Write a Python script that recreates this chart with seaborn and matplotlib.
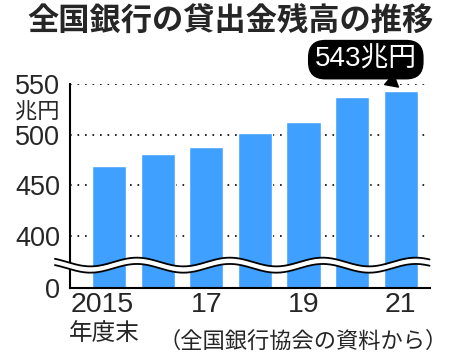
import numpy as np
import pandas as pd
import matplotlib
matplotlib.use("Agg")
import matplotlib.pyplot as plt
import matplotlib.transforms as mtransforms
import seaborn as sns

years = ["2015", "16", "17", "18", "19", "20", "21"]
values = [469, 481, 488, 502, 513, 537, 543]
tick_labels = ["2015", "", "17", "", "19", "", "21"]
ytick_values = [349, 400, 450, 500, 550]
ytick_labels = ["0", "400", "450", "500", "550"]

sns.set_style("white")
plt.rcParams['font.family'] = ['Liberation Sans', 'Noto Sans CJK JP', 'DejaVu Sans']
CJK = ['Noto Sans CJK JP', 'DejaVu Sans']

df = pd.DataFrame({"year": years, "value": values})

fig = plt.figure(figsize=(4.5, 3.58), dpi=100)
ax = fig.add_axes([70/450, 1-288/358, 360/450, 204/358])

sns.barplot(data=df, x="year", y="value", color="#40a0ff", saturation=1,
            width=0.7, ax=ax, zorder=2)

ax.set_ylim(349, 550)
ax.set_xlim(-0.80, 6.60)
ax.set_axisbelow(True)
for v in ytick_values[1:]:
    ax.axhline(v, color="black", lw=1.2, ls=(0, (1, 3.5)), zorder=1)

ax.set_yticks(ytick_values)
ax.set_yticklabels(ytick_labels, fontsize=19.5)
ax.set_xticks(range(len(years)))
ax.set_xticklabels(tick_labels, fontsize=20.5)
ax.tick_params(axis="y", length=3, width=1.2, color="black", pad=4)
ax.tick_params(axis="x", length=0, pad=3)
first = ax.get_xticklabels()[0]
first.set_transform(first.get_transform() +
                    mtransforms.ScaledTranslation(-7/100, 0, fig.dpi_scale_trans))
ax.set_xlabel("")
ax.set_ylabel("")
for s in ["top", "right"]:
    ax.spines[s].set_visible(False)
for s in ["left", "bottom"]:
    ax.spines[s].set_color("black")
    ax.spines[s].set_linewidth(1.5)

# axis break wave
xw = np.linspace(-1.11, 6.59, 400)
period = 1.91
phase = 0.575
amp = 4.3
up = 374.6 + amp * np.cos(2*np.pi*(xw - phase)/period)
lo = 368.4 + amp * np.cos(2*np.pi*(xw - phase)/period)
ax.fill_between(xw, lo, up, color="white", zorder=5, clip_on=False, lw=0)
ax.plot(xw, up, color="black", lw=1.3, zorder=6, clip_on=False)
ax.plot(xw, lo, color="black", lw=1.3, zorder=6, clip_on=False)

fig.text(37/450, 1-112/358, "兆円", fontsize=16, ha="center", va="center", family=CJK)
fig.text(104/450, 1-333/358, "年度末", fontsize=17, ha="center", va="center", family=CJK)
fig.text(303/450, 1-341/358, "（全国銀行協会の資料から）", fontsize=16,
         ha="center", va="center", family=CJK)

fig.text(231/450, 1-22/358, "全国銀行の貸出金残高の推移", fontsize=22.5,
         fontweight="bold", ha="center", va="center", family=CJK)

ax.annotate(f"{values[-1]}兆円", xy=(5.95, 547), xytext=(5.28, 574),
            fontsize=20, color="white", ha="center", va="center",
            annotation_clip=False,
            bbox=dict(boxstyle="round,pad=0.22,rounding_size=0.6", fc="black", ec="black"),
            arrowprops=dict(arrowstyle="wedge,tail_width=0.5", fc="black", ec="black",
                            shrinkA=0, shrinkB=0))

fig.savefig("out.png", dpi=100)
